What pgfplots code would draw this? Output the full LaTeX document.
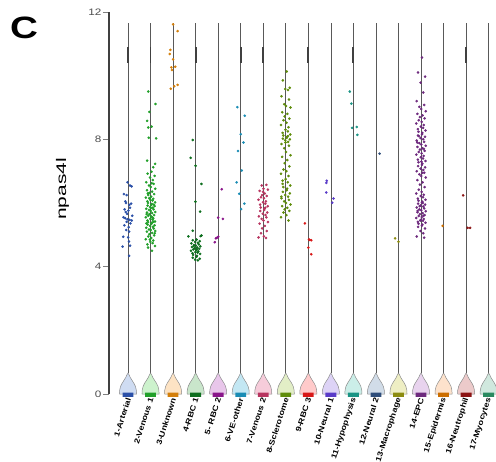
\documentclass[border=0pt]{standalone}
\usepackage{pgfplots}
\pgfplotsset{compat=1.18}
\usepackage{pgfplotstable}
\usepackage{graphicx}
\usepackage{fontspec}
\setmainfont{Liberation Sans}

\definecolor{p1}{HTML}{2B50A8}\definecolor{f1}{HTML}{CFDCF2}
\definecolor{p2}{HTML}{22A02A}\definecolor{f2}{HTML}{CDF2CD}
\definecolor{p3}{HTML}{D47F0A}\definecolor{f3}{HTML}{FDE3C4}
\definecolor{p4}{HTML}{0D6E1E}\definecolor{f4}{HTML}{C9E6CB}
\definecolor{p5}{HTML}{8A158A}\definecolor{f5}{HTML}{E8C6EA}
\definecolor{p6}{HTML}{1A8CB4}\definecolor{f6}{HTML}{C3E7F3}
\definecolor{p7}{HTML}{B83560}\definecolor{f7}{HTML}{F6CCDA}
\definecolor{p8}{HTML}{5E8C0A}\definecolor{f8}{HTML}{E2EEC6}
\definecolor{p9}{HTML}{D81818}\definecolor{f9}{HTML}{FFCACA}
\definecolor{p10}{HTML}{5A3CC8}\definecolor{f10}{HTML}{DDD3F6}
\definecolor{p11}{HTML}{1A9484}\definecolor{f11}{HTML}{CBEEE8}
\definecolor{p12}{HTML}{2E4D7A}\definecolor{f12}{HTML}{D1DCE8}
\definecolor{p13}{HTML}{8C8C10}\definecolor{f13}{HTML}{EEEEC4}
\definecolor{p14}{HTML}{6E2A7E}\definecolor{f14}{HTML}{E8D3EE}
\definecolor{p15}{HTML}{CC6E00}\definecolor{f15}{HTML}{FDE2CC}
\definecolor{p16}{HTML}{8C1414}\definecolor{f16}{HTML}{ECCACA}
\definecolor{p17}{HTML}{2A8A60}\definecolor{f17}{HTML}{D0E8DE}

\pgfplotstableread{
dx y
-0.38 0
-0.37 0.12
-0.33 0.24
-0.26 0.34
-0.17 0.44
-0.10 0.52
-0.05 0.60
0 0.66
0.05 0.60
0.10 0.52
0.17 0.44
0.26 0.34
0.33 0.24
0.37 0.12
0.38 0
-0.38 0
}\violinshape
\pgfplotstableread{
dx y
-0.24 -0.09
0.24 -0.09
0.24 0.04
-0.24 0.04
-0.24 -0.09
}\barshape

\newcommand\violin[3]{%
  \addplot[draw=black!65, line width=0.6pt] coordinates {(#1,0.66) (#1,11.65)};
  \addplot[fill=#2, draw=black!45, line width=0.5pt] table[x expr=\thisrow{dx}+#1, y=y] {\violinshape};
  \addplot[fill=#3, draw=none] table[x expr=\thisrow{dx}+#1, y=y] {\barshape};
}
\newcommand\thickseg[1]{%
  \addplot[draw=black!75, line width=1.9pt] coordinates {(#1,10.4) (#1,10.9)};
}
\newcommand\lab[1]{\scalebox{1.2}[1]{#1}}

\begin{document}
\begin{tikzpicture}
\begin{axis}[
  at={(0,0)}, anchor=south west,
  scale only axis, width=387bp, height=382bp,
  xmin=0.157, xmax=17.327, ymin=0, ymax=12,
  clip=false,
  axis lines*=left,
  x axis line style={draw=none},
  y axis line style={line width=1.1pt, draw=black!75},
  ytick={0,4,8,12},
  ytick style={draw=black!50, line width=0.5pt},
  major tick length=6bp, tick align=outside,
  xtick={1,...,17},
  xtick style={draw=none},
  xticklabels={\lab{1-Arterial},\lab{2-Venous 1},\lab{3-Unknown},\lab{4-RBC 1},\lab{5- RBC 2},\lab{6-VE-other},\lab{7-Venous 2},\lab{8-Sclerotome},\lab{9-RBC 3},\lab{10-Neural 1},\lab{11-Hypophysis},\lab{12-Neural 2},\lab{13-Macrophage},\lab{14-EPC},\lab{15-Epidermis},\lab{16-Neutrophil},\lab{17-Myocytes}},
  xticklabel style={rotate=72, anchor=east, font=\fontsize{7.6}{8}\selectfont\bfseries, inner sep=1pt, xshift=3bp},
  /pgf/number format/assume math mode=true,
  yticklabel style={font=\fontsize{9.4}{10}\selectfont, text=black!70, inner sep=1.5pt},
  yticklabel={\scalebox{1.25}[1]{\pgfmathprintnumber{\tick}}},
  ylabel={\scalebox{1.5}[1]{npas4l}},
  ylabel style={font=\fontsize{14}{16}\selectfont, at={(axis description cs:-0.12,0.537)}, anchor=center},
]
\violin{1}{f1}{p1}
\violin{2}{f2}{p2}
\violin{3}{f3}{p3}
\violin{4}{f4}{p4}
\violin{5}{f5}{p5}
\violin{6}{f6}{p6}
\violin{7}{f7}{p7}
\violin{8}{f8}{p8}
\violin{9}{f9}{p9}
\violin{10}{f10}{p10}
\violin{11}{f11}{p11}
\violin{12}{f12}{p12}
\violin{13}{f13}{p13}
\violin{14}{f14}{p14}
\violin{15}{f15}{p15}
\violin{16}{f16}{p16}
\violin{17}{f17}{p17}
\thickseg{1}
\thickseg{2}
\thickseg{4}
\thickseg{6}
\thickseg{7}
\thickseg{9}
\thickseg{11}
\thickseg{16}

% 1-Arterial
\addplot[only marks, mark=*, mark size=1.1bp, color=p1] table[x expr=\thisrow{dx}+1, y=y] {
dx y
-0.02 6.65
0.09 6.55
0.16 6.52
-0.18 6.28
-0.06 6.25
-0.12 6.05
-0.09 6.00
0.06 5.94
0.14 5.98
-0.15 5.80
0.02 5.76
-0.10 5.72
-0.04 5.66
0.19 5.60
-0.20 5.55
-0.12 5.52
-0.02 5.49
0.07 5.47
0.17 5.45
-0.06 5.41
0.11 5.36
-0.16 5.30
0.03 5.24
-0.08 5.15
0.05 5.10
-0.21 4.94
0.01 4.92
0.04 4.79
0.09 4.66
-0.24 4.63
0.05 4.34
0.09 5.85
};
% 2-Venous 1
\addplot[only marks, mark=*, mark size=1.1bp, color=p2] table[x expr=\thisrow{dx}+2, y=y] {
dx y
-0.10 9.50
0.22 9.11
-0.05 8.86
-0.15 8.58
0.05 8.40
-0.10 8.37
-0.08 8.05
0.25 8.03
-0.15 7.33
0.20 7.23
0.12 7.12
0.04 6.98
-0.13 6.92
0.18 6.85
-0.02 6.80
0.10 6.72
-0.19 6.65
0.14 6.60
-0.07 6.55
0.01 6.50
0.21 6.45
-0.16 6.40
0.07 6.36
-0.05 6.32
0.16 6.28
-0.10 6.25
0.03 6.20
-0.21 6.17
0.12 6.13
-0.01 6.10
0.09 6.08
-0.14 6.05
0.20 6.02
-0.11 6.00
0.06 5.97
0.04 5.94
-0.13 5.92
0.18 5.90
-0.02 5.87
0.10 5.85
-0.19 5.82
0.14 5.80
-0.07 5.78
0.01 5.75
0.21 5.72
-0.16 5.70
0.07 5.68
-0.05 5.65
0.16 5.62
-0.10 5.60
0.03 5.58
-0.21 5.55
0.12 5.52
-0.01 5.50
0.09 5.48
-0.14 5.45
0.20 5.42
-0.11 5.40
0.06 5.38
0.04 5.35
-0.13 5.32
0.18 5.30
-0.02 5.28
0.10 5.25
-0.19 5.22
0.14 5.20
-0.07 5.17
0.01 5.15
0.21 5.12
-0.16 5.10
0.07 5.06
-0.05 5.02
0.16 4.98
-0.10 4.95
0.03 4.90
-0.21 4.86
0.12 4.82
-0.01 4.78
0.09 4.74
-0.14 4.70
0.20 4.65
-0.11 4.60
0.06 4.50
0.15 5.95
-0.17 5.65
0.13 5.41
0.08 5.55
-0.06 6.15
0.19 5.05
-0.03 4.85
0.05 6.62
-0.12 6.30
0.02 5.84
-0.18 5.36
};
% 3-Unknown
\addplot[only marks, mark=*, mark size=1.1bp, color=p3] table[x expr=\thisrow{dx}+3, y=y] {
dx y
0.00 11.61
0.20 11.40
-0.12 10.81
-0.15 10.68
0.00 10.51
0.10 10.28
-0.08 10.26
-0.05 10.18
0.20 9.71
0.05 9.67
-0.10 9.59
};
% 4-RBC 1
\addplot[only marks, mark=*, mark size=1.1bp, color=p4] table[x expr=\thisrow{dx}+4, y=y] {
dx y
-0.13 7.98
-0.22 7.42
0.00 7.17
0.26 6.60
-0.01 6.04
0.20 5.73
-0.13 5.13
0.22 4.96
0.26 4.98
-0.32 4.95
0.04 4.85
-0.13 4.83
0.18 4.80
-0.02 4.78
0.10 4.75
-0.19 4.73
0.14 4.70
-0.07 4.68
0.01 4.66
0.21 4.64
-0.16 4.62
0.07 4.60
-0.05 4.58
0.16 4.56
-0.10 4.54
0.03 4.52
-0.21 4.50
0.12 4.48
-0.01 4.46
0.09 4.44
-0.14 4.42
0.20 4.40
-0.11 4.37
0.06 4.34
0.04 4.31
-0.13 4.28
0.18 4.25
-0.02 4.22
0.10 4.20
-0.08 4.65
0.05 4.55
};
% 5-RBC 2
\addplot[only marks, mark=*, mark size=1.1bp, color=p5] table[x expr=\thisrow{dx}+5, y=y] {
dx y
0.16 6.43
0.00 5.54
0.21 5.50
0.00 4.94
-0.10 4.89
-0.05 4.91
-0.15 4.77
};
% 6-VE-other
\addplot[only marks, mark=*, mark size=1.1bp, color=p6] table[x expr=\thisrow{dx}+6, y=y] {
dx y
-0.15 9.01
0.18 8.74
0.00 8.16
0.12 7.90
-0.12 7.63
0.05 7.02
-0.18 6.65
-0.06 6.29
0.16 5.98
0.02 5.81
};
% 7-Venous 2
\addplot[only marks, mark=*, mark size=1.1bp, color=p7] table[x expr=\thisrow{dx}+7, y=y] {
dx y
0.14 6.57
-0.07 6.55
0.01 6.45
0.21 6.42
-0.16 6.38
0.07 6.30
-0.05 6.25
0.16 6.22
-0.10 6.18
0.03 6.15
-0.21 6.10
0.12 6.05
-0.01 6.02
0.09 5.98
-0.14 5.95
0.20 5.90
-0.11 5.86
0.06 5.82
0.04 5.78
-0.13 5.75
0.18 5.70
-0.02 5.66
0.10 5.62
-0.19 5.58
0.14 5.55
-0.07 5.50
0.01 5.45
0.21 5.40
-0.16 5.35
0.07 5.28
-0.05 5.20
0.16 5.12
-0.10 5.05
0.03 4.95
-0.21 4.92
0.12 4.90
-0.01 6.35
0.09 5.85
};
% 8-Sclerotome
\addplot[only marks, mark=*, mark size=1.1bp, color=p8] table[x expr=\thisrow{dx}+8, y=y] {
dx y
0.04 10.13
-0.13 9.85
0.18 9.62
-0.02 9.58
0.10 9.55
-0.19 9.35
0.14 9.25
-0.07 9.10
0.01 9.05
0.21 9.00
-0.16 8.85
0.07 8.80
-0.05 8.72
0.16 8.65
-0.10 8.60
0.03 8.52
-0.21 8.45
0.12 8.38
-0.01 8.30
0.09 8.25
-0.14 8.20
0.20 8.15
-0.11 8.12
0.06 8.08
0.04 8.05
-0.13 8.02
0.18 8.00
-0.02 7.97
0.10 7.92
-0.19 7.85
0.14 7.80
-0.07 7.72
0.01 7.60
0.21 7.50
-0.16 7.45
0.07 7.35
-0.05 7.25
0.16 7.15
-0.10 7.05
0.03 7.00
-0.21 6.92
0.12 6.85
-0.01 6.75
0.09 6.65
-0.14 6.60
0.20 6.55
-0.11 6.50
0.06 6.45
0.04 6.40
-0.13 6.35
0.18 6.30
-0.02 6.25
0.10 6.20
-0.19 6.15
0.14 6.10
-0.07 6.05
0.01 6.00
0.21 5.95
-0.16 5.90
0.07 5.85
-0.05 5.80
0.16 5.75
-0.10 5.70
0.03 5.62
-0.21 5.55
0.12 5.45
-0.01 7.90
0.09 8.10
-0.14 6.70
-0.20 6.20
};
% 9-RBC 3
\addplot[only marks, mark=*, mark size=1.1bp, color=p9] table[x expr=\thisrow{dx}+9, y=y] {
dx y
-0.15 5.36
0.06 4.84
0.13 4.83
0.03 4.85
0.00 4.60
0.13 4.39
};
% 10-Neural 1
\addplot[only marks, mark=*, mark size=1.1bp, color=p10] table[x expr=\thisrow{dx}+10, y=y] {
dx y
-0.18 6.70
-0.20 6.63
-0.20 6.33
0.12 6.14
0.06 6.01
};
% 11-Hypophysis
\addplot[only marks, mark=*, mark size=1.1bp, color=p11] table[x expr=\thisrow{dx}+11, y=y] {
dx y
-0.16 9.50
-0.09 9.12
-0.06 8.36
0.15 8.39
0.18 8.14
};
% 12-Neural 2
\addplot[only marks, mark=*, mark size=1.1bp, color=p12] table[x expr=\thisrow{dx}+12, y=y] {
dx y
0.16 7.55
};
% 13-Macrophage
\addplot[only marks, mark=*, mark size=1.1bp, color=p13] table[x expr=\thisrow{dx}+13, y=y] {
dx y
-0.15 4.89
0.00 4.78
};
% 14-EPC
\addplot[only marks, mark=*, mark size=1.1bp, color=p14] table[x expr=\thisrow{dx}+14, y=y] {
dx y
0.04 10.57
-0.13 10.10
0.18 9.97
-0.02 9.78
0.10 9.47
-0.19 9.20
0.14 9.08
-0.07 9.02
0.01 8.95
0.21 8.88
-0.16 8.80
0.07 8.75
-0.05 8.70
0.16 8.66
-0.10 8.60
0.03 8.55
-0.21 8.50
0.12 8.45
-0.01 8.40
0.09 8.36
-0.14 8.32
0.20 8.28
-0.11 8.24
0.06 8.20
0.04 8.16
-0.13 8.12
0.18 8.08
-0.02 8.04
0.10 8.00
-0.19 7.96
0.14 7.92
-0.07 7.88
0.01 7.84
0.21 7.80
-0.16 7.76
0.07 7.72
-0.05 7.68
0.16 7.64
-0.10 7.60
0.03 7.56
-0.21 7.52
0.12 7.48
-0.01 7.44
0.09 7.40
-0.14 7.36
0.20 7.32
-0.11 7.28
0.06 7.24
0.04 7.20
-0.13 7.16
0.18 7.12
-0.02 7.08
0.10 7.04
-0.19 7.00
0.14 6.95
-0.07 6.90
0.01 6.85
0.21 6.80
-0.16 6.72
0.07 6.65
-0.05 6.58
0.16 6.50
-0.10 6.42
0.03 6.35
-0.21 6.30
0.12 6.26
-0.01 6.22
0.09 6.18
-0.14 6.14
0.20 6.10
-0.11 6.07
0.06 6.04
0.04 6.01
-0.13 5.98
0.18 5.95
-0.02 5.92
0.10 5.89
-0.19 5.86
0.14 5.83
-0.07 5.80
0.01 5.77
0.21 5.74
-0.16 5.71
0.07 5.68
-0.05 5.65
0.16 5.62
-0.10 5.59
0.03 5.56
-0.21 5.53
0.12 5.50
-0.01 5.47
0.09 5.44
-0.14 5.41
0.20 5.38
-0.11 5.35
0.06 5.32
0.04 5.29
-0.13 5.25
0.18 5.20
-0.02 5.12
0.10 5.05
-0.19 4.95
0.14 4.91
-0.06 5.90
0.11 5.60
-0.15 5.75
0.08 6.00
-0.03 5.45
0.13 7.70
-0.09 8.10
0.02 7.30
-0.17 7.90
0.06 6.95
};
% 15-Epidermis
\addplot[only marks, mark=*, mark size=1.1bp, color=p15] table[x expr=\thisrow{dx}+15, y=y] {
dx y
-0.04 5.28
};
% 16-Neutrophil
\addplot[only marks, mark=*, mark size=1.1bp, color=p16] table[x expr=\thisrow{dx}+16, y=y] {
dx y
-0.13 6.24
0.07 5.22
0.18 5.22
};
\end{axis}
\node at (-85bp,366.5bp) {\fontsize{31}{31}\selectfont\bfseries\scalebox{1.25}[1]{C}};
\pgfresetboundingbox
\path[use as bounding box] (-109bp,-68bp) rectangle (387bp,394bp);
\end{tikzpicture}
\end{document}
